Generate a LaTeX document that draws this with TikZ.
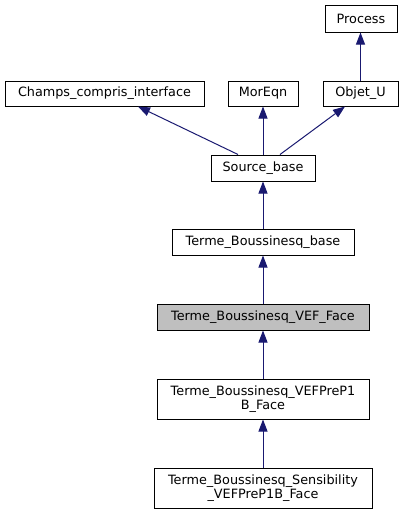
\documentclass[tikz,border=0pt]{standalone}
\usepackage{fontspec}
\setmainfont{DejaVu Sans}
\usetikzlibrary{arrows.meta}
\definecolor{edgecol}{HTML}{191970}
\definecolor{grayfill}{HTML}{BFBFBF}
\begin{document}
\begin{tikzpicture}[x=1pt,y=-1pt,
 box/.style={draw=black, line width=1pt, fill=white, inner sep=0pt, align=center, font=\fontsize{12.8}{14.5}\selectfont},
 cur/.style={box, fill=grayfill},
 inh/.style={draw=edgecol, line width=1pt, -{Triangle[length=12pt,width=9pt]}}
]
\useasboundingbox (0,0) rectangle (403,515);
\node[box, minimum width=72pt, minimum height=27pt] (process) at (361,18.5) {Process};
\node[box, minimum width=199pt, minimum height=25pt] (champs) at (104.5,93.5) {Champs\_compris\_interface};
\node[box, minimum width=70pt, minimum height=25pt] (moreqn) at (263,93.5) {MorEqn};
\node[box, minimum width=75pt, minimum height=25pt] (objet) at (360.5,93.5) {Objet\_U};
\node[box, minimum width=104pt, minimum height=26pt] (sb) at (263,168) {Source\_base};
\node[box, minimum width=182pt, minimum height=26pt] (tbb) at (263,242) {Terme\_Boussinesq\_base};
\node[cur, minimum width=212pt, minimum height=26pt] (vef) at (263,317) {Terme\_Boussinesq\_VEF\_Face};
\node[box, minimum width=212pt, minimum height=40pt] (prep) at (263,399) {Terme\_Boussinesq\_VEFPreP1\\B\_Face};
\node[box, minimum width=218pt, minimum height=40pt] (sens) at (263,488) {Terme\_Boussinesq\_Sensibility\\\_VEFPreP1B\_Face};
\draw[inh] (sens.north) -- (prep.south);
\draw[inh] (prep.north) -- (vef.south);
\draw[inh] (vef.north) -- (tbb.south);
\draw[inh] (tbb.north) -- (sb.south);
\draw[inh] (sb.north) -- (moreqn.south);
\draw[inh] ([xshift=-25pt]sb.north) -- ([xshift=33.5pt]champs.south);
\draw[inh] ([xshift=17pt]sb.north) -- ([xshift=-15.5pt]objet.south);
\draw[inh] (objet.north) -- (objet.north |- process.south);
\end{tikzpicture}
\end{document}
